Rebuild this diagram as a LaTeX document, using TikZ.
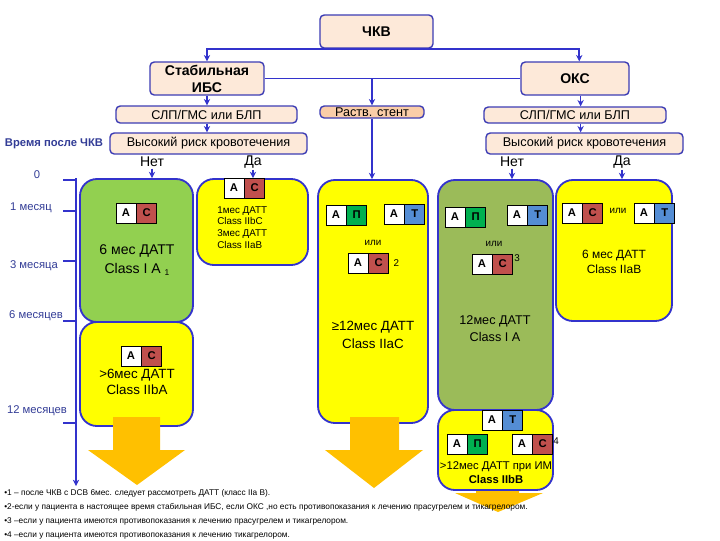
\documentclass[tikz,border=0pt]{standalone}
\usepackage{fontspec}
\setmainfont{Liberation Sans}
\usetikzlibrary{positioning,fit,arrows.meta}
\definecolor{lineblue}{RGB}{51,51,204}
\definecolor{boxblue}{RGB}{60,60,180}
\definecolor{peach}{RGB}{253,233,217}
\definecolor{stentfill}{RGB}{250,205,168}
\definecolor{tlblue}{RGB}{50,60,150}
\definecolor{colgreen}{RGB}{146,208,80}
\definecolor{cololive}{RGB}{155,187,89}
\definecolor{colyellow}{RGB}{255,255,0}
\definecolor{arrorange}{RGB}{255,192,0}
\definecolor{clopi}{RGB}{192,80,77}
\definecolor{prasu}{RGB}{0,176,80}
\definecolor{tica}{RGB}{84,141,212}

\begin{document}
\begin{tikzpicture}[x=0.025cm,y=-0.025cm,
    box/.style={draw=boxblue,line width=1pt,fill=peach,rounded corners=3pt,inner sep=0pt},
    btext/.style={align=center,inner sep=0pt,font=\fontsize{9}{10}\selectfont},
    bold/.style={align=center,inner sep=0pt,font=\fontsize{10}{12}\selectfont\bfseries},
    col/.style={draw=lineblue,line width=1.3pt,rounded corners=12pt,inner sep=0pt},
    lt/.style={draw=black,line width=0.5pt,fill=white,minimum width=0.5cm,minimum height=0.5cm,inner sep=0pt,font=\fontsize{8}{8}\selectfont\bfseries},
    conn/.style={draw=lineblue,line width=1.2pt},
    arr/.style={conn,-{Stealth[length=4.5pt,width=4.5pt]}},
    tlab/.style={text=tlblue,font=\fontsize{8}{9}\selectfont},
    yn/.style={font=\fontsize{10}{11}\selectfont,inner sep=1pt},
    ctext/.style={align=center,font=\fontsize{9.5}{13}\selectfont},
    small/.style={font=\fontsize{7}{8}\selectfont,inner sep=0pt},
    fnote/.style={anchor=west,inner sep=0pt,font=\fontsize{5.9}{6}\selectfont}]
  \useasboundingbox (0,0) rectangle (720,540);

  % top of the scheme
  \node[box,fit={(320,15) (433,48)}] (chkv) {};
  \node[bold] (chkvt) at (chkv.center) {ЧКВ};
  \node[box,fit={(150,62) (264,95)}] (ibs) {};
  \node[bold] (ibst) at (ibs.center) {Стабильная\\ИБС};
  \node[box,fit={(521,62) (629,95)}] (oks) {};
  \node[bold] (okst) at (oks.center) {ОКС};
  \node[box,fit={(116,106) (297,123)}] (slp1) {};
  \node[btext] (slp1t) at (slp1.center) {СЛП/ГМС или БЛП};
  \node[box,fit={(320,106) (424,118)},fill=stentfill] (stent) {};
  \node[btext] (stentt) at (stent.center) {Раств. стент};
  \node[box,fit={(484,107) (666,123)}] (slp2) {};
  \node[btext] (slp2t) at (slp2.center) {СЛП/ГМС или БЛП};
  \node[box,fit={(110,133) (307,154)}] (risk1) {};
  \node[btext] (risk1t) at (risk1.center) {Высокий риск кровотечения};
  \node[box,fit={(486,133) (683,154)}] (risk2) {};
  \node[btext] (risk2t) at (risk2.center) {Высокий риск кровотечения};

  \draw[arr] (chkv.south) -| (ibs.north);
  \draw[arr] (chkv.south) -| ([xshift=3pt]oks.north);
  \draw[conn] (ibs.east) -- (oks.west);
  \draw[arr] (ibs.east -| stent.north) -- (stent.north);
  \draw[arr] (ibs.south) -- (ibs.south |- slp1.north);
  \draw[arr] (ibs.south |- slp1.south) -- (ibs.south |- risk1.north);
  \draw[arr] ([xshift=4pt]oks.south) -- ([xshift=4pt]oks.south |- slp2.north);
  \draw[arr] ([xshift=4pt]oks.south |- slp2.south) -- ([xshift=4pt]oks.south |- risk2.north);

  \node[yn] (no1) at (152,162) {Нет};
  \node[yn] (yes1) at (253,162) {Да};
  \node[yn] (no2) at (512,162) {Нет};
  \node[yn] (yes2) at (622,162) {Да};

  % timeline
  \node[tlab,font=\fontsize{8}{9}\selectfont\bfseries] (tlhead) at (54,144) {Время после ЧКВ};
  \node[tlab] (t0) at (37,175) {0};
  \node[tlab] (t1) at (31,208) {1 месяц};
  \node[tlab] (t3) at (34,266) {3 месяца};
  \node[tlab] (t6) at (36,316) {6 месяцев};
  \node[tlab] (t12) at (37,411) {12 месяцев};
  \coordinate (tltop) at (76,178);
  \coordinate (tlend) at (76,486);
  \draw[arr] (tltop) -- (tlend);
  \foreach \y in {180,211,261,321,423}
    \draw[conn] (63,\y) -- (76,\y);

  % hidden tail of the small arrow
  \fill[arrorange] (476,470) -- (519,470) -- (519,493) -- (543,493) -- (498,512) -- (455,493) -- (476,493) -- cycle;

  % columns
  \node[col,fill=colgreen,fit={(80,179) (193,322)}] (c1) {};
  \node[col,fill=colyellow,fit={(80,322) (193,426)}] (c1b) {};
  \node[col,fill=colyellow,fit={(197,179) (308,265)}] (c2) {};
  \node[col,fill=colyellow,fit={(318,180) (428,423)}] (c3) {};
  \node[col,fill=cololive,fit={(438,180) (553,410)}] (c4) {};
  \node[col,fill=colyellow,fit={(438,410) (553,490)}] (c4b) {};
  \node[col,fill=colyellow,fit={(556,180) (672,321)}] (c5) {};

  \draw[arr] (no1.south) -- (no1.south |- c1.north);
  \draw[arr] (yes1.south) -- (yes1.south |- c2.north);
  \draw[arr] (stent.south) -- (stent.south |- c3.north);
  \draw[arr] (no2.south) -- (no2.south |- c4.north);
  \draw[arr] (yes2.south) -- (yes2.south |- c5.north);

  % column 1
  \node[lt] (a1) at (126,213) {А};
  \node[lt,fill=clopi,right=0pt of a1] (s1) {С};
  \node[ctext,font=\fontsize{10}{13.5}\selectfont] (c1t) at (137,260) {6 мес ДАТТ\\Class I A \raisebox{-2pt}{\fontsize{6}{6}\selectfont 1}};
  \node[lt] (a1b) at (131,356) {А};
  \node[lt,fill=clopi,right=0pt of a1b] (s1b) {С};
  \node[ctext,font=\fontsize{9.5}{11.5}\selectfont] (c1bt) at (137,382) {>6мес ДАТТ\\Class IIbA};

  % column 2
  \node[lt] (a2) at (234,188) {А};
  \node[lt,fill=clopi,right=0pt of a2] (s2) {С};
  \node[small,align=left,anchor=north west,font=\fontsize{7}{8.3}\selectfont] (c2t) at (217,206) {1мес ДАТТ\\Class IIbC\\3мес ДАТТ\\Class IIaB};

  % column 3
  \node[lt] (a3p) at (336,215) {А};
  \node[lt,fill=prasu,right=0pt of a3p] (p3) {П};
  \node[lt] (a3t) at (394,214) {А};
  \node[lt,fill=tica,right=0pt of a3t] (t3t) {Т};
  \node[small] (or3) at (373,243) {или};
  \node[lt] (a3c) at (358,263) {А};
  \node[lt,fill=clopi,right=0pt of a3c] (s3) {С};
  \node[small,right=3pt of s3] (n2) {2};
  \node[ctext] (c3t) at (373,335) {≥12мес ДАТТ\\Class IIaC};

  % column 4
  \node[lt] (a4p) at (455,217) {А};
  \node[lt,fill=prasu,right=0pt of a4p] (p4) {П};
  \node[lt] (a4t) at (517,215) {А};
  \node[lt,fill=tica,right=0pt of a4t] (t4t) {Т};
  \node[small] (or4) at (494,244) {или};
  \node[lt] (a4c) at (482,264) {А};
  \node[lt,fill=clopi,right=0pt of a4c] (s4) {С};
  \node[small] (n3) at (517,258) {3};
  \node[ctext,font=\fontsize{9}{12}\selectfont] (c4t) at (495,329) {12мес ДАТТ\\Class I A};

  \node[lt] (a4bt) at (492,420) {А};
  \node[lt,fill=tica,right=0pt of a4bt] (t4b) {Т};
  \node[lt] (a4bp) at (457,444) {А};
  \node[lt,fill=prasu,right=0pt of a4bp] (p4b) {П};
  \node[lt] (a4bc) at (522,444) {А};
  \node[lt,fill=clopi,right=0pt of a4bc] (s4b) {С};
  \node[small] (n4) at (556,441) {4};
  \node[ctext,font=\fontsize{8}{10}\selectfont] (c4bt) at (496,473) {>12мес ДАТТ при ИМ\\\textbf{Class IIbB}};

  % column 5
  \node[lt] (a5c) at (572,213) {А};
  \node[lt,fill=clopi,right=0pt of a5c] (s5) {С};
  \node[small] (or5) at (618,211) {или};
  \node[lt] (a5t) at (644,213) {А};
  \node[lt,fill=tica,right=0pt of a5t] (t5t) {Т};
  \node[ctext,font=\fontsize{8.5}{11}\selectfont] (c5t) at (614,262) {6 мес ДАТТ\\Class IIaB};

  % big arrows
  \fill[arrorange] (113,417) -- (160,417) -- (160,450) -- (185,450) -- (137,485) -- (88,450) -- (113,450) -- cycle;
  \fill[arrorange] (350,417) -- (399,417) -- (399,450) -- (423,450) -- (374,488) -- (325,450) -- (350,450) -- cycle;

  % footnotes
  \node[fnote] (f1) at (4,493) {•1 – после ЧКВ с DCB 6мес. следует рассмотреть ДАТТ (класс IIa B).};
  \node[fnote] (f2) at (4,507) {•2-если у пациента в настоящее время стабильная ИБС, если ОКС ,но есть противопоказания к лечению прасугрелем и тикагрелором.};
  \node[fnote] (f3) at (4,521) {•3 –если у пациента имеются противопоказания к лечению прасугрелем и тикагрелором.};
  \node[fnote] (f4) at (4,535) {•4 –если у пациента имеются противопоказания к лечению тикагрелором.};
\end{tikzpicture}
\end{document}
